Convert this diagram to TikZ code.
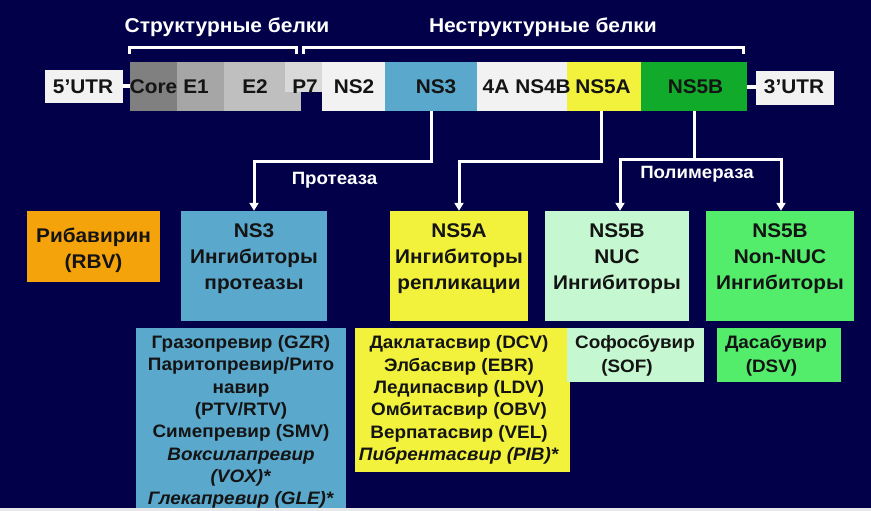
\documentclass[tikz,border=0pt]{standalone}
\usepackage{fontspec}
\setmainfont{Liberation Sans}[FakeStretch=1.05]
\usetikzlibrary{arrows.meta}
\definecolor{bg}{HTML}{020048}
\definecolor{txt}{HTML}{141414}
\definecolor{gcore}{HTML}{808080}
\definecolor{ge1}{HTML}{A6A6A6}
\definecolor{ge2}{HTML}{BFBFBF}
\definecolor{gp7}{HTML}{D9D9D9}
\definecolor{lgray}{HTML}{F2F2F2}
\definecolor{sblue}{HTML}{5AA8CC}
\definecolor{yel}{HTML}{F2F23C}
\definecolor{dgreen}{HTML}{12AA2B}
\definecolor{orng}{HTML}{F5A30A}
\definecolor{mint}{HTML}{C5F8D0}
\definecolor{bgreen}{HTML}{53EC6B}
\begin{document}
\begin{tikzpicture}[x=1pt,y=-1pt,
  box/.style={inner sep=0pt, draw=none},
  segtxt/.style={inner sep=0pt, anchor=base, text=txt, font=\bfseries\fontsize{19.8}{22}\selectfont},
  ttl/.style={inner sep=0pt, text=white, font=\bfseries\fontsize{20}{22}\selectfont},
  sub/.style={inner sep=0pt, text=white, font=\bfseries\fontsize{17.8}{20}\selectfont},
  lbl/.style={inner sep=0pt, align=center, text=txt, font=\bfseries\fontsize{19.8}{26}\selectfont},
  lst/.style={inner sep=0pt, align=center, text=txt, font=\bfseries\fontsize{18}{22.3}\selectfont},
  wline/.style={draw=white, line width=3pt},
  arr/.style={draw=white, line width=3pt, -{Triangle[width=9pt,length=8pt]}}
]
\fill[bg] (0,0) rectangle (871,511);
\useasboundingbox (0,0) rectangle (871,511);

% titles
\node[ttl] (tstr) at (227,27) {Структурные белки};
\node[ttl] (tnstr) at (543,27) {Неструктурные белки};
\draw[wline] (129,54) -- (129,47.5) -- (296,47.5) -- (296,54);
\draw[wline] (303,54) -- (303,47.5) -- (743,47.5) -- (743,54);

% genome bar
\node[box, fill=lgray, minimum width=78pt, minimum height=33pt] (utr5) at (84,86.5) {};
\node[box, fill=gcore, minimum width=47pt, minimum height=49pt] (core) at (153.5,86.5) {};
\node[box, fill=ge1, minimum width=47pt, minimum height=49pt] (e1) at (200.5,86.5) {};
\node[box, fill=ge2, minimum width=77pt, minimum height=49pt] (e2) at (262.5,86.5) {};
\node[box, fill=gp7, minimum width=37pt, minimum height=30pt] (p7) at (303.5,77) {};
\node[box, fill=lgray, minimum width=63pt, minimum height=49pt] (ns2) at (353.5,86.5) {};
\node[box, fill=sblue, minimum width=92pt, minimum height=49pt] (ns3) at (431,86.5) {};
\node[box, fill=lgray, minimum width=90pt, minimum height=49pt] (ns4) at (522,86.5) {};
\node[box, fill=yel, minimum width=74pt, minimum height=49pt] (ns5a) at (604,86.5) {};
\node[box, fill=dgreen, minimum width=106pt, minimum height=49pt] (ns5b) at (694,86.5) {};
\node[box, fill=lgray, minimum width=78pt, minimum height=34pt] (utr3) at (795,88) {};
\draw[draw=white, line width=4pt] (utr5.east |- 0,86.5) -- (core.west |- 0,86.5);
\draw[draw=white, line width=4pt] (ns5b.east |- 0,87) -- (utr3.west |- 0,87);

\node[segtxt] (t5) at (83,94) {5’UTR};
\node[segtxt] (tcore) at (153.5,94) {Core};
\node[segtxt] (te1) at (196,94) {E1};
\node[segtxt] (te2) at (255,94) {E2};
\node[segtxt] (tp7) at (305,94) {P7};
\node[segtxt] (tns2) at (354,94) {NS2};
\node[segtxt] (tns3) at (436,94) {NS3};
\node[segtxt] (t4a) at (496,94) {4A};
\node[segtxt] (tns4b) at (543,94) {NS4B};
\node[segtxt] (tns5a) at (603,94) {NS5A};
\node[segtxt] (tns5b) at (695.5,94) {NS5B};
\node[segtxt] (t3) at (794,94) {3’UTR};

% second row boxes
\node[box, fill=orng, minimum width=133pt, minimum height=71pt] (rbv) at (93.5,246.5) {};
\node[box, fill=sblue, minimum width=146pt, minimum height=110pt] (ns3inh) at (254,266) {};
\node[box, fill=yel, minimum width=138pt, minimum height=110pt] (ns5ainh) at (459,266) {};
\node[box, fill=mint, minimum width=144pt, minimum height=110pt] (nuc) at (617,266) {};
\node[box, fill=bgreen, minimum width=148pt, minimum height=110pt] (nnuc) at (780,266) {};

\node[lbl] (trbv) at (93.5,250.5) {Рибавирин\\(RBV)};
\node[lbl] (tns3inh) at (254,259) {NS3\\Ингибиторы\\протеазы};
\node[lbl] (tns5ainh) at (459,259) {NS5A\\Ингибиторы\\репликации};
\node[lbl] (tnuc) at (617,259) {NS5B\\NUC\\Ингибиторы};
\node[lbl] (tnnuc) at (780,259) {NS5B\\Non-NUC\\Ингибиторы};

% connectors
\coordinate (h1) at (0,161);
\coordinate (h2) at (0,159);
\coordinate (s5a) at ([xshift=-3pt]ns5a.south);
\draw[arr] (ns3.south) -- (ns3.south |- h1) -| (ns3inh.north);
\draw[arr] (s5a) -- (s5a |- h1) -| (ns5ainh.north);
\coordinate (j) at (ns5b.south |- h2);
\draw[wline] (ns5b.south) -- (j);
\draw[arr] (j) -| ([xshift=3pt]nuc.north);
\draw[arr] (j) -| ([xshift=1pt]nnuc.north);
\node[sub] (tprot) at (334.5,180) {Протеаза};
\node[sub] (tpol) at (697,174.5) {Полимераза};

% third row
\node[box, fill=sblue, minimum width=210pt, minimum height=183pt] (l1) at (241,419.5) {};
\node[box, fill=yel, minimum width=215pt, minimum height=144pt] (l2) at (462.5,400) {};
\node[box, fill=mint, minimum width=137pt, minimum height=54pt] (l3) at (635.5,355) {};
\node[box, fill=bgreen, minimum width=124pt, minimum height=54pt] (l4) at (779,355) {};

\node[lst] (tl1) at (241,422) {Грaзопревир (GZR)\\Паритопревир/Рито\\навир\\(PTV/RTV)\\Симепревир (SMV)\\\textit{Воксилапревир}\\\textit{(VOX)*}\\\textit{Глекапревир (GLE)*}};
\node[lst] (tl2) at (459,400) {Даклатасвир (DCV)\\Элбасвир (EBR)\\Ледипасвир (LDV)\\Омбитасвир (OBV)\\Верпатасвир (VEL)\\\textit{Пибрентасвир (PIB)*}};
\node[lst, font=\bfseries\fontsize{18}{24.5}\selectfont] (tl3) at (635,356) {Софосбувир\\(SOF)\hspace*{16pt}};
\node[lst, font=\bfseries\fontsize{18}{24.5}\selectfont] (tl4) at (776,356) {Дасабувир\\(DSV)\hspace*{9pt}};

\fill[fill=black!9] (0,508) rectangle (871,511);
\end{tikzpicture}
\end{document}
